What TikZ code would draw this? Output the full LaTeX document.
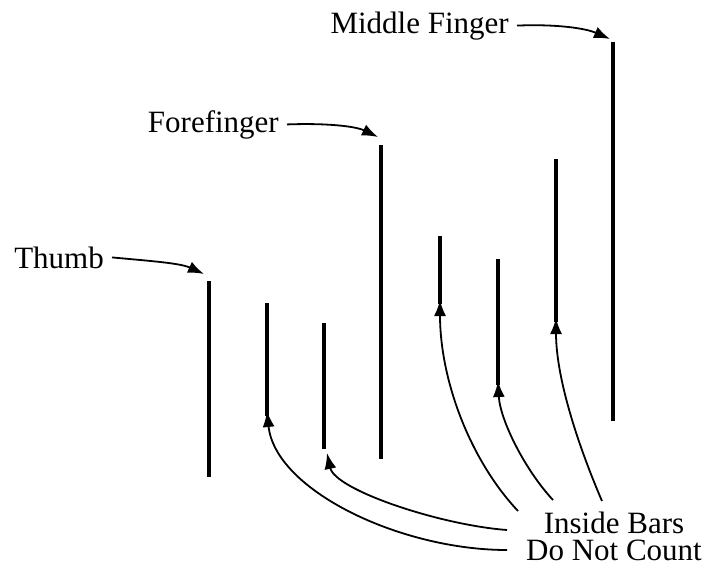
\documentclass[tikz,border=0pt]{standalone}
\usepackage{fontspec}
\setmainfont{Liberation Serif}
\usepackage{tikz}
\usetikzlibrary{arrows.meta,positioning,calc}

\begin{document}
\begin{tikzpicture}[
  x=1pt, y=-1pt,
  bar/.style={line width=4pt},
  lbl/.style={font=\fontsize{31}{27}\selectfont, inner sep=0pt},
  arrow/.style={-{Latex[length=16pt, width=12pt]}, line width=1.8pt}
]
\useasboundingbox (0,0) rectangle (712,573);
% bar ends
\coordinate (thumbTop) at (209,281); \coordinate (thumbBot) at (209,477);
\coordinate (inOneTop) at (267,303); \coordinate (inOneBot) at (267,416);
\coordinate (inTwoTop) at (324,323); \coordinate (inTwoBot) at (324,449);
\coordinate (foreTop) at (381,145); \coordinate (foreBot) at (381,459);
\coordinate (inThreeTop) at (440,236); \coordinate (inThreeBot) at (440,304);
\coordinate (inFourTop) at (498,259); \coordinate (inFourBot) at (498,385);
\coordinate (inFiveTop) at (556,159); \coordinate (inFiveBot) at (556,322);
\coordinate (midTop) at (613,42); \coordinate (midBot) at (613,421);
\draw[bar] (thumbTop) -- (thumbBot);
\draw[bar] (inOneTop) -- (inOneBot);
\draw[bar] (inTwoTop) -- (inTwoBot);
\draw[bar] (foreTop) -- (foreBot);
\draw[bar] (inThreeTop) -- (inThreeBot);
\draw[bar] (inFourTop) -- (inFourBot);
\draw[bar] (inFiveTop) -- (inFiveBot);
\draw[bar, line width=4.5pt] (midTop) -- (midBot);

% finger labels
\node[lbl, anchor=base east] (thumb) at (104,268) {Thumb};
\node[lbl, anchor=base east] (fore) at (279,132) {Forefinger};
\node[lbl, anchor=base east] (middle) at (509,33) {Middle Finger};
\draw[arrow] ([xshift=8pt]thumb.east) .. controls (150,261) and (180,263) .. ([shift={(-5,-7)}]thumbTop);
\draw[arrow] ([xshift=8pt]fore.east) .. controls (325,123) and (355,126) .. ([shift={(-3,-8)}]foreTop);
\draw[arrow] ([xshift=8pt]middle.east) .. controls (555,24) and (585,28) .. ([shift={(-3,-3)}]midTop);

% note
\node[lbl, align=center, anchor=south] (note) at (614,561) {Inside Bars\\Do Not Count};
\coordinate (fromA) at (507,550);
\coordinate (fromB) at (507,530);
\coordinate (fromC) at (518,511);
\coordinate (fromD) at (553,500);
\coordinate (fromE) at (602,501);
\draw[arrow] (fromA) .. controls (400,550) and (275,490) .. ([yshift=5pt]inOneBot);
\draw[arrow] (fromB) .. controls (440,525) and (335,490) .. ([shift={(3,4)}]inTwoBot);
\draw[arrow] (fromC) .. controls (470,460) and (440,380) .. ([yshift=4pt]inThreeBot);
\draw[arrow] (fromD) .. controls (525,470) and (500,420) .. ([yshift=4pt]inFourBot);
\draw[arrow] (fromE) .. controls (580,450) and (556,380) .. ([yshift=4pt]inFiveBot);
\end{tikzpicture}
\end{document}
